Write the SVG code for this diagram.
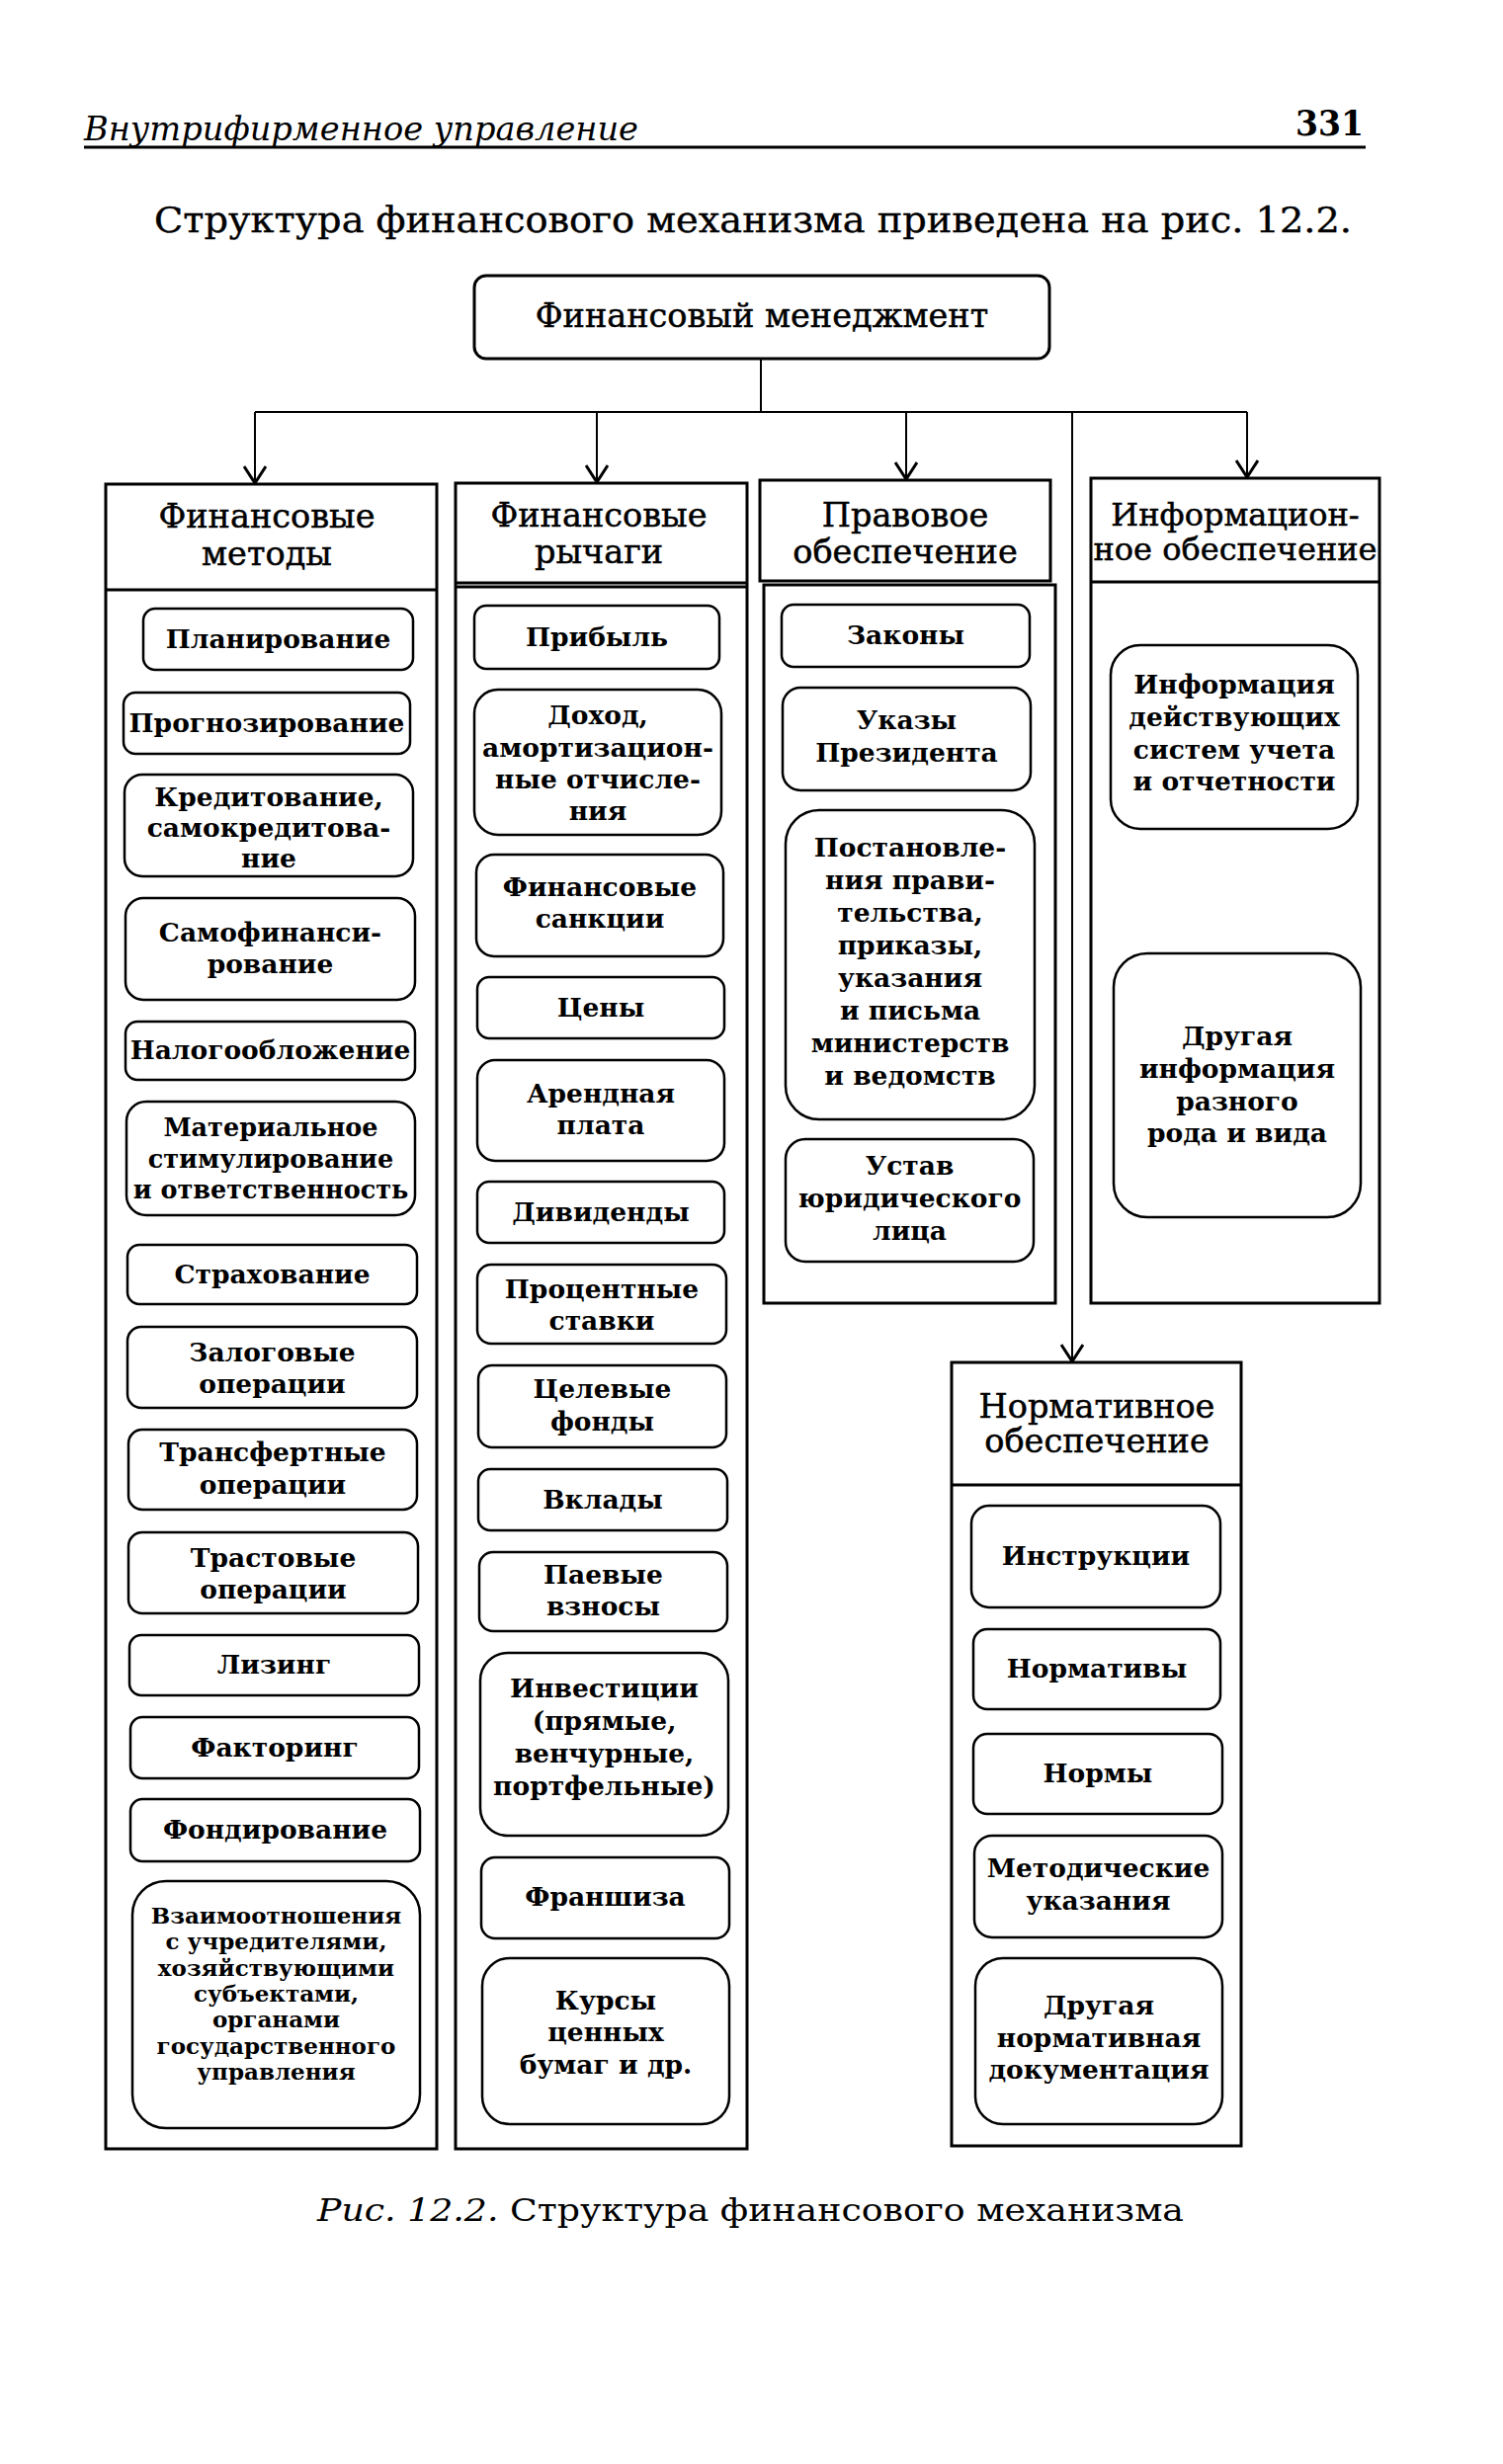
<svg xmlns="http://www.w3.org/2000/svg" width="1521" height="2494" viewBox="0 0 1521 2494">
<defs>
<style>
.col{fill:none;stroke:#000;stroke-width:3}
.it{fill:none;stroke:#000;stroke-width:2.5}
.conn{fill:none;stroke:#000;stroke-width:2}
.t{font-family:"DejaVu Serif","Liberation Serif",serif;font-weight:bold;font-size:26.5px;text-anchor:middle;fill:#000}
.ts{font-size:25.5px}
.tx{font-size:23px}
.h{font-family:"DejaVu Serif","Liberation Serif",serif;font-size:33.5px;text-anchor:middle;fill:#000;stroke:#000;stroke-width:0.5}
.h4{font-size:32px}
.pg{font-family:"DejaVu Serif","Liberation Serif",serif;fill:#000}
</style>
<marker id="arr" viewBox="-1 -12 20 24" refX="17" refY="0" markerWidth="20" markerHeight="24" markerUnits="userSpaceOnUse" orient="auto">
<path d="M0,-11 L17,0 L0,11" fill="none" stroke="#000" stroke-width="3"/>
</marker>
</defs>
<rect x="0" y="0" width="1521" height="2494" fill="#fff"/>

<g id="page-header">
<text class="pg" x="85" y="142" font-style="italic" font-size="33" textLength="561" lengthAdjust="spacingAndGlyphs">Внутрифирменное управление</text>
<text class="pg" x="1311" y="137" font-weight="bold" font-size="36" textLength="69" lengthAdjust="spacingAndGlyphs">331</text>
<line x1="85" y1="149" x2="1382" y2="149" stroke="#000" stroke-width="3"/>
<text class="pg" x="156" y="235" font-size="35" stroke="#000" stroke-width="0.4" textLength="1212" lengthAdjust="spacingAndGlyphs">Структура финансового механизма приведена на рис. 12.2.</text>
</g>

<g id="connectors">
<path class="conn" d="M770,363 V417 M258,417 H1262"/>
<path class="conn" d="M258,417 V489" marker-end="url(#arr)"/>
<path class="conn" d="M604,417 V488" marker-end="url(#arr)"/>
<path class="conn" d="M917,417 V485" marker-end="url(#arr)"/>
<path class="conn" d="M1262,417 V483" marker-end="url(#arr)"/>
<path class="conn" d="M1085,417 V1378" marker-end="url(#arr)"/>
</g>

<g id="fin-management">
<rect class="col" x="480" y="279" width="582" height="84" rx="12"/>
<text class="h" x="771" y="331" font-size="34">Финансовый менеджмент</text>
</g>

<g id="col-methods">
<rect class="col" x="107" y="490" width="335" height="1685"/>
<line class="col" x1="107" y1="597" x2="442" y2="597"/>
<text class="h" x="270" y="534">Финансовые</text>
<text class="h" x="270" y="572">методы</text>
</g>
<g id="m1"><rect class="it" x="145" y="616" width="273" height="62" rx="12"/><text class="t" x="281.5" y="656">Планирование</text></g>
<g id="m2"><rect class="it" x="125" y="701" width="290" height="62" rx="12"/><text class="t" x="270" y="741">Прогнозирование</text></g>
<g id="m3"><rect class="it" x="126" y="784" width="292" height="103" rx="18"/><text class="t"><tspan x="272" y="816">Кредитование,</tspan><tspan x="272" y="847">самокредитова-</tspan><tspan x="272" y="878">ние</tspan></text></g>
<g id="m4"><rect class="it" x="127" y="909" width="293" height="103" rx="18"/><text class="t"><tspan x="273.5" y="953">Самофинанси-</tspan><tspan x="273.5" y="985">рование</tspan></text></g>
<g id="m5"><rect class="it" x="127" y="1034" width="293" height="59" rx="12"/><text class="t" x="273.5" y="1072">Налогообложение</text></g>
<g id="m6"><rect class="it" x="128" y="1115" width="292" height="115" rx="20"/><text class="t ts"><tspan x="274" y="1150">Материальное</tspan><tspan x="274" y="1182">стимулирование</tspan><tspan x="274" y="1213">и ответственность</tspan></text></g>
<g id="m7"><rect class="it" x="129" y="1260" width="293" height="60" rx="12"/><text class="t" x="275.5" y="1299">Страхование</text></g>
<g id="m8"><rect class="it" x="129" y="1343" width="293" height="82" rx="14"/><text class="t"><tspan x="275.5" y="1378">Залоговые</tspan><tspan x="275.5" y="1410">операции</tspan></text></g>
<g id="m9"><rect class="it" x="130" y="1447" width="292" height="81" rx="14"/><text class="t"><tspan x="276" y="1479">Трансфертные</tspan><tspan x="276" y="1512">операции</tspan></text></g>
<g id="m10"><rect class="it" x="130" y="1551" width="293" height="82" rx="14"/><text class="t"><tspan x="276.5" y="1586">Трастовые</tspan><tspan x="276.5" y="1618">операции</tspan></text></g>
<g id="m11"><rect class="it" x="131" y="1655" width="293" height="61" rx="12"/><text class="t" x="277.5" y="1694">Лизинг</text></g>
<g id="m12"><rect class="it" x="132" y="1738" width="292" height="62" rx="12"/><text class="t" x="278" y="1778">Факторинг</text></g>
<g id="m13"><rect class="it" x="132" y="1821" width="293" height="63" rx="12"/><text class="t" x="278.5" y="1861">Фондирование</text></g>
<g id="m14"><rect class="it" x="134" y="1904" width="291" height="250" rx="34"/><text class="t tx"><tspan x="279.5" y="1947">Взаимоотношения</tspan><tspan x="279.5" y="1973">с учредителями,</tspan><tspan x="279.5" y="2000">хозяйствующими</tspan><tspan x="279.5" y="2026">субъектами,</tspan><tspan x="279.5" y="2052">органами</tspan><tspan x="279.5" y="2079">государственного</tspan><tspan x="279.5" y="2105">управления</tspan></text></g>

<g id="col-levers">
<rect class="col" x="461" y="489" width="295" height="1686"/>
<line class="col" x1="461" y1="590" x2="756" y2="590"/>
<line class="col" x1="461" y1="594" x2="756" y2="594"/>
<text class="h" x="606" y="533">Финансовые</text>
<text class="h" x="606" y="570">рычаги</text>
</g>
<g id="r1"><rect class="it" x="480" y="613" width="248" height="64" rx="12"/><text class="t" x="604" y="654">Прибыль</text></g>
<g id="r2"><rect class="it" x="480" y="698" width="250" height="147" rx="24"/><text class="t"><tspan x="605" y="733">Доход,</tspan><tspan x="605" y="766">амортизацион-</tspan><tspan x="605" y="798">ные отчисле-</tspan><tspan x="605" y="830">ния</tspan></text></g>
<g id="r3"><rect class="it" x="482" y="865" width="250" height="103" rx="18"/><text class="t"><tspan x="607" y="907">Финансовые</tspan><tspan x="607" y="939">санкции</tspan></text></g>
<g id="r4"><rect class="it" x="483" y="989" width="250" height="62" rx="12"/><text class="t" x="608" y="1029">Цены</text></g>
<g id="r5"><rect class="it" x="483" y="1073" width="250" height="102" rx="18"/><text class="t"><tspan x="608" y="1116">Арендная</tspan><tspan x="608" y="1148">плата</tspan></text></g>
<g id="r6"><rect class="it" x="483" y="1196" width="250" height="62" rx="12"/><text class="t" x="608" y="1236">Дивиденды</text></g>
<g id="r7"><rect class="it" x="483" y="1280" width="252" height="80" rx="14"/><text class="t"><tspan x="609" y="1314">Процентные</tspan><tspan x="609" y="1346">ставки</tspan></text></g>
<g id="r8"><rect class="it" x="484" y="1382" width="251" height="83" rx="14"/><text class="t"><tspan x="609.5" y="1415">Целевые</tspan><tspan x="609.5" y="1448">фонды</tspan></text></g>
<g id="r9"><rect class="it" x="484" y="1487" width="252" height="62" rx="12"/><text class="t" x="610" y="1527">Вклады</text></g>
<g id="r10"><rect class="it" x="485" y="1571" width="251" height="80" rx="14"/><text class="t"><tspan x="610.5" y="1603">Паевые</tspan><tspan x="610.5" y="1635">взносы</tspan></text></g>
<g id="r11"><rect class="it" x="486" y="1673" width="251" height="185" rx="28"/><text class="t"><tspan x="611.5" y="1718">Инвестиции</tspan><tspan x="611.5" y="1751">(прямые,</tspan><tspan x="611.5" y="1784">венчурные,</tspan><tspan x="611.5" y="1817">портфельные)</tspan></text></g>
<g id="r12"><rect class="it" x="487" y="1880" width="251" height="82" rx="14"/><text class="t" x="612.5" y="1929">Франшиза</text></g>
<g id="r13"><rect class="it" x="488" y="1982" width="250" height="168" rx="28"/><text class="t"><tspan x="613" y="2034">Курсы</tspan><tspan x="613" y="2066">ценных</tspan><tspan x="613" y="2099">бумаг и др.</tspan></text></g>

<g id="col-legal">
<rect class="col" x="769" y="486" width="294" height="102"/>
<rect class="col" x="773" y="592" width="295" height="727"/>
<text class="h" x="916" y="533">Правовое</text>
<text class="h" x="916" y="570">обеспечение</text>
</g>
<g id="p1"><rect class="it" x="791" y="612" width="251" height="63" rx="12"/><text class="t" x="916.5" y="652">Законы</text></g>
<g id="p2"><rect class="it" x="792" y="696" width="251" height="104" rx="18"/><text class="t"><tspan x="917.5" y="738">Указы</tspan><tspan x="917.5" y="771">Президента</tspan></text></g>
<g id="p3"><rect class="it" x="795" y="820" width="252" height="313" rx="34"/><text class="t"><tspan x="921" y="867">Постановле-</tspan><tspan x="921" y="900">ния прави-</tspan><tspan x="921" y="933">тельства,</tspan><tspan x="921" y="966">приказы,</tspan><tspan x="921" y="999">указания</tspan><tspan x="921" y="1032">и письма</tspan><tspan x="921" y="1065">министерств</tspan><tspan x="921" y="1098">и ведомств</tspan></text></g>
<g id="p4"><rect class="it" x="795" y="1153" width="251" height="124" rx="20"/><text class="t"><tspan x="920.5" y="1189">Устав</tspan><tspan x="920.5" y="1222">юридического</tspan><tspan x="920.5" y="1255">лица</tspan></text></g>

<g id="col-info">
<rect class="col" x="1104" y="484" width="292" height="835"/>
<line class="col" x1="1104" y1="589" x2="1396" y2="589"/>
<text class="h h4" x="1250" y="532">Информацион-</text>
<text class="h h4" x="1250" y="567">ное обеспечение</text>
</g>
<g id="i1"><rect class="it" x="1124" y="653" width="250" height="186" rx="30"/><text class="t"><tspan x="1249" y="702">Информация</tspan><tspan x="1249" y="735">действующих</tspan><tspan x="1249" y="768">систем учета</tspan><tspan x="1249" y="800">и отчетности</tspan></text></g>
<g id="i2"><rect class="it" x="1127" y="965" width="250" height="267" rx="34"/><text class="t"><tspan x="1252" y="1058">Другая</tspan><tspan x="1252" y="1091">информация</tspan><tspan x="1252" y="1124">разного</tspan><tspan x="1252" y="1156">рода и вида</tspan></text></g>

<g id="col-normative">
<rect class="col" x="963" y="1379" width="293" height="793"/>
<line class="col" x1="963" y1="1503" x2="1256" y2="1503"/>
<text class="h" x="1110" y="1435">Нормативное</text>
<text class="h" x="1110" y="1470">обеспечение</text>
</g>
<g id="n1"><rect class="it" x="983" y="1524" width="252" height="103" rx="18"/><text class="t" x="1109" y="1584">Инструкции</text></g>
<g id="n2"><rect class="it" x="985" y="1649" width="250" height="81" rx="14"/><text class="t" x="1110" y="1698">Нормативы</text></g>
<g id="n3"><rect class="it" x="985" y="1755" width="252" height="81" rx="14"/><text class="t" x="1111" y="1804">Нормы</text></g>
<g id="n4"><rect class="it" x="986" y="1858" width="251" height="103" rx="18"/><text class="t"><tspan x="1111.5" y="1900">Методические</tspan><tspan x="1111.5" y="1933">указания</tspan></text></g>
<g id="n5"><rect class="it" x="987" y="1982" width="250" height="168" rx="28"/><text class="t"><tspan x="1112" y="2039">Другая</tspan><tspan x="1112" y="2072">нормативная</tspan><tspan x="1112" y="2104">документация</tspan></text></g>

<g id="caption">
<text class="pg" x="321" y="2248" font-size="32" textLength="877" lengthAdjust="spacingAndGlyphs"><tspan font-style="italic">Рис. 12.2.</tspan> Структура финансового механизма</text>
</g>
</svg>
